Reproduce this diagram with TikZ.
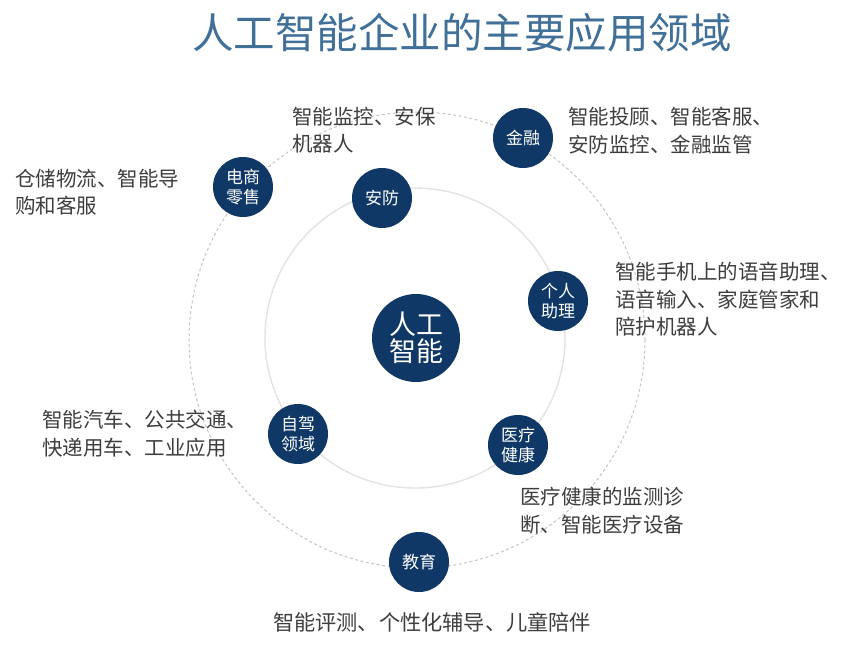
\documentclass[tikz,border=0pt]{standalone}
\usepackage{fontspec}
\setmainfont{Noto Sans CJK SC}
\usepackage{xcolor}
\definecolor{navy}{RGB}{16,56,102}
\definecolor{titleblue}{RGB}{64,112,152}
\definecolor{labelgray}{RGB}{62,62,62}
\tikzstyle{hub} = [circle, fill=navy, text=white, minimum size=88pt, inner sep=0pt, align=center, font=\fontsize{27}{27}\selectfont]
\tikzstyle{area} = [circle, fill=navy, text=white, minimum size=60pt, inner sep=0pt, align=center, font=\fontsize{17}{19.5}\selectfont]
\tikzstyle{note} = [anchor=north west, align=left, text=labelgray, inner sep=0pt, font=\fontsize{20.5}{27.5}\selectfont]
\tikzstyle{heading} = [text=titleblue, inner sep=0pt, font=\fontsize{41.5}{41.5}\selectfont]

\begin{document}
\begin{tikzpicture}[x=1pt,y=-1pt]

\useasboundingbox[fill=white] (0,0) rectangle (856,667);
%\draw[help lines] (0,0) grid[step=50] (856,667);

\node[heading] (title) at (462,33) {人工智能企业的主要应用领域};

% rings
\draw[color=gray!22, line width=1.4pt] (415,338) circle[radius=150pt];
\draw[color=gray!45, line width=1pt, dash pattern=on 3pt off 2.5pt] (417,340) circle[radius=228pt];

\node[hub] (ai) at (416,338) {人工\\智能};

\node[area] (anfang) at (382,198) {安防};
\node[area] (dianshang) at (243,187) {电商\\零售};
\node[area] (jinrong) at (523,138) {金融};
\node[area] (zhuli) at (558,301) {个人\\助理};
\node[area] (zijia) at (298,434) {自驾\\领域};
\node[area] (yiliao) at (518,445) {医疗\\健康};
\node[area] (jiaoyu) at (419,562) {教育};

\node[note] (anfangtxt) at (292,107) {智能监控、安保\\机器人};
\node[note] (jinrongtxt) at (568,107) {智能投顾、智能客服、\\安防监控、金融监管};
\node[note] (dianshangtxt) at (15,169) {仓储物流、智能导\\购和客服};
\node[note] (zhulitxt) at (615,262) {智能手机上的语音助理、\\语音输入、家庭管家和\\陪护机器人};
\node[note] (zijiatxt) at (42,410) {智能汽车、公共交通、\\快递用车、工业应用};
\node[note] (yiliaotxt) at (520,487) {医疗健康的监测诊\\断、智能医疗设备};
\node[note, anchor=north, font=\fontsize{21.2}{27.5}\selectfont] (jiaoyutxt) at (432,612) {智能评测、个性化辅导、儿童陪伴};

\end{tikzpicture}
\end{document}
